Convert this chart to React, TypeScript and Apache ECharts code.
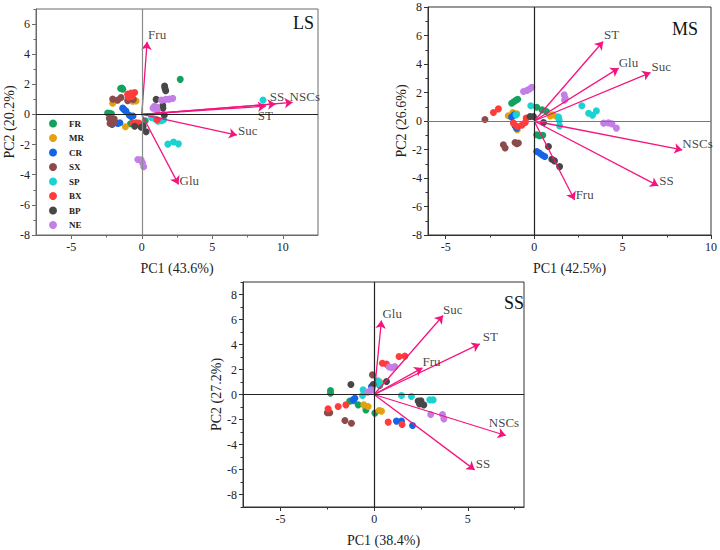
import React, { useEffect, useRef } from 'react';
import * as echarts from 'echarts';

const groups = ['FR', 'MR', 'CR', 'SX', 'SP', 'BX', 'BP', 'NE'];
const groupColors = ['#12A15E', '#E3A10E', '#1464E8', '#8C4B4B', '#1BD2D2', '#FF3B3B', '#474747', '#C27FE6'];

// ---- LS panel scores ----
const lsFR = [[2.73, 2.33], [-1.5, 1.72], [-1.42, 1.76], [-1.35, 1.68], [-2.42, 0.1], [-2.28, 0.08], [-2.15, 0.05], [-0.8, -0.62], [-0.68, -0.58], [0.25, -0.42]];
const lsMR = [[-2.06, 0.74], [-1.16, -0.81], [-0.52, 0.91], [-0.4, 0.9], [-0.65, 0.88]];
const lsCR = [[-1.35, 0.42], [-1.25, 0.32], [-1.12, 0.22], [-0.88, -0.05], [-0.75, -0.14], [-0.62, -0.1], [-1.7, -0.6], [-1.55, -0.55], [-2.1, -0.66]];
const lsSX = [[-2.06, 1.02], [-1.71, 0.95], [-1.47, 1.12], [-1.0, 0.92], [-0.8, 1.05], [-0.6, 1.0], [-2.3, -0.27], [-2.25, -0.6], [-2.0, -0.58], [-1.95, -0.3]];
const lsSP = [[8.6, 0.95], [1.85, -1.97], [2.25, -1.83], [2.6, -1.95], [0.7, -0.2], [0.95, -0.3], [1.15, -0.45], [1.4, -0.42], [1.55, -0.35]];
const lsBX = [[-1.0, 1.35], [-0.75, 1.42], [-0.5, 1.46], [-0.95, 1.15], [-0.68, 1.2], [-0.64, -0.6], [-0.4, -0.55], [-0.2, -0.57], [1.1, -0.35]];
const lsBP = [[1.62, 1.88], [1.65, 1.72], [1.7, 1.57], [1.02, 1.0], [1.49, 0.6], [1.5, 0.42], [1.6, -0.04], [-0.5, -0.78], [-0.04, -0.85], [0.1, -0.78], [0.31, -1.15]];
const lsNE = [[0.8, 0.42], [0.9, 0.55], [1.05, 0.5], [1.1, 0.3], [1.4, 0.95], [1.7, 1.0], [1.95, 1.02], [2.2, 1.07], [-0.28, -2.99], [-0.05, -3.0], [0.05, -3.2], [0.14, -3.47]];
const lsVars = ['Fru', 'SS', 'NSCs', 'ST', 'Suc', 'Glu'];
const lsLoadX = [0.38, 9.5, 10.7, 8.8, 6.75, 2.61];
const lsLoadY = [4.82, 0.7, 0.8, 0.55, -1.37, -4.64];

// ---- MS panel scores ----
const msFR = [[-1.27, 1.25], [-1.15, 1.35], [-1.03, 1.45], [-0.93, 1.53], [0.15, 0.97], [0.45, 0.78], [0.7, 0.67], [0.15, -0.97], [0.3, -1.04], [0.49, -1.0]];
const msMR = [[-1.46, 0.37], [-1.2, 0.6], [-0.98, 0.5], [-1.0, -0.55], [-0.95, -0.62], [0.91, 0.36], [1.06, 0.43], [1.3, 0.3]];
const msCR = [[-1.27, 0.27], [-1.13, 0.43], [-1.08, -0.34], [-0.98, -0.5], [0.15, -2.14], [0.3, -2.25], [0.45, -2.38], [0.6, -2.49]];
const msSX = [[-2.78, 0.1], [-1.74, -1.67], [-1.64, -1.9], [-1.08, -1.51], [-0.98, -1.6], [-0.89, -1.55]];
const msSP = [[-0.19, 1.07], [-1.02, 0.43], [1.38, 0.27], [1.42, 0.05], [1.44, -0.34], [2.7, 1.07], [3.08, 0.55], [3.3, 0.4], [3.52, 0.71]];
const msBX = [[-2.3, 0.6], [-2.02, 0.85], [-1.17, -0.15], [-0.95, -0.39], [-0.7, -0.3], [-0.5, -0.1], [-0.45, 0.2]];
const msBP = [[-0.23, 0.32], [-0.04, 0.32], [0.53, -0.1], [0.81, -1.79], [1.0, -2.68], [1.15, -2.8], [1.44, -3.2]];
const msNE = [[-0.6, 2.07], [-0.4, 2.15], [-0.25, 2.25], [-0.13, 2.37], [1.7, 1.84], [1.76, 1.6], [1.72, 1.45], [3.93, -0.15], [4.2, -0.13], [4.4, -0.2], [4.65, -0.5]];
const msVars = ['ST', 'Glu', 'Suc', 'NSCs', 'SS', 'Fru'];
const msLoadX = [3.9, 4.78, 6.58, 8.38, 7.02, 2.29];
const msLoadY = [5.58, 3.71, 3.4, -2.03, -4.55, -5.54];

// ---- SS panel scores ----
const ssFR = [[-2.33, 0.32], [-2.33, 0.1], [-1.3, -0.53], [-1.1, -0.5], [-0.85, -0.83], [-0.44, -1.23], [0.04, -1.49], [0.3, 0.72]];
const ssMR = [[-0.55, -0.83], [-0.32, -0.96], [0.27, -1.28], [0.39, -1.33], [0.3, 1.0]];
const ssCR = [[-1.12, -0.42], [-1.03, -0.3], [1.19, -2.13], [1.46, -2.13], [2.05, -2.48], [-0.14, 0.64]];
const ssSX = [[-0.09, 1.57], [-2.5, -1.46], [-2.37, -1.46], [-1.56, -2.08], [-1.21, -2.3]];
const ssSP = [[-0.59, 0.37], [-0.62, -0.08], [0.2, 1.1], [0.3, 0.85], [1.46, -0.08], [1.99, -0.16], [2.97, -0.43], [3.15, -0.43]];
const ssBX = [[1.33, 3.04], [1.64, 3.07], [0.44, 2.5], [0.66, 2.43], [-2.46, -1.15], [-1.92, -0.96], [-1.51, -0.83], [0.75, -2.21], [1.49, -2.4]];
const ssBP = [[-1.24, 0.8], [-0.05, 0.8], [0.66, 1.04], [2.35, -0.53], [2.5, -0.5], [2.42, -0.75], [2.65, -0.83]];
const ssNE = [[0.8, 2.2], [0.95, 2.15], [1.1, 2.24], [-0.34, 0.19], [-0.2, 0.3], [-0.14, 0.37], [3.02, -1.6], [3.65, -1.6], [3.72, -1.95]];
const ssVars = ['Glu', 'Suc', 'ST', 'Fru', 'NSCs', 'SS'];
const ssLoadX = [0.39, 3.68, 5.64, 2.58, 7.03, 5.37];
const ssLoadY = [5.92, 6.32, 4.05, 2.13, -3.28, -6.03];

// ---- ticks ----
const lsXTicks = [-5, 0, 5, 10];
const lsXMinor = [-2.5, 2.5, 7.5];
const lsYTicks = [-8, -6, -4, -2, 0, 2, 4, 6];
const lsYMinor = [-7, -5, -3, -1, 1, 3, 5, 7];
const msXTicks = [-5, 0, 5, 10];
const msXMinor = [-2.5, 2.5, 7.5];
const msYTicks = [-8, -6, -4, -2, 0, 2, 4, 6, 8];
const msYMinor = [-7, -5, -3, -1, 1, 3, 5, 7];
const ssXTicks = [-5, 0, 5];
const ssXMinor = [-2.5, 2.5, 7.5];
const ssYTicks = [-8, -6, -4, -2, 0, 2, 4, 6, 8];
const ssYMinor = [-9, -7, -5, -3, -1, 1, 3, 5, 7, 9];

const SERIF = 'Liberation Serif, Times New Roman, serif';
const ARROW = '#F5147D';

const panels = [
  {
    title: 'LS', titleX: 293, titleY: 14,
    grid: { left: 36, top: 9, width: 282, height: 226 },
    xMin: -7.5, xMax: 12.5, yMin: -8, yMax: 7,
    xTicks: lsXTicks, xMinor: lsXMinor, yTicks: lsYTicks, yMinor: lsYMinor,
    xName: 'PC1 (43.6%)', yName: 'PC2 (20.2%)',
    points: [lsFR, lsMR, lsCR, lsSX, lsSP, lsBX, lsBP, lsNE],
    vars: lsVars, loadX: lsLoadX, loadY: lsLoadY,
    offsets: [[1, -7], [-6, -7], [-3, -6], [-8, 9], [1, -5], [1, -4]],
    frame: '#6a6a6a', vColor: '#8a8a8a', hColor: '#222',
  },
  {
    title: 'MS', titleX: 672, titleY: 20,
    grid: { left: 428, top: 7, width: 283, height: 228 },
    xMin: -6, xMax: 10, yMin: -8, yMax: 8,
    xTicks: msXTicks, xMinor: msXMinor, yTicks: msYTicks, yMinor: msYMinor,
    xName: 'PC1 (42.5%)', yName: 'PC2 (26.6%)',
    points: [msFR, msMR, msCR, msSX, msSP, msBX, msBP, msNE],
    vars: msVars, loadX: msLoadX, loadY: msLoadY,
    offsets: [[1, -7], [0, -6], [1, -6], [0, -6], [1, -5], [1, -5]],
    frame: '#333', vColor: '#222', hColor: '#777',
  },
  {
    title: 'SS', titleX: 504, titleY: 294,
    grid: { left: 243, top: 282, width: 281, height: 225 },
    xMin: -7, xMax: 8, yMin: -9, yMax: 9,
    xTicks: ssXTicks, xMinor: ssXMinor, yTicks: ssYTicks, yMinor: ssYMinor,
    xName: 'PC1 (38.4%)', yName: 'PC2 (27.2%)',
    points: [ssFR, ssMR, ssCR, ssSX, ssSP, ssBX, ssBP, ssNE],
    vars: ssVars, loadX: ssLoadX, loadY: ssLoadY,
    offsets: [[1, -7], [0, -6], [3, -7], [0, -6], [-17, -13], [1, -6]],
    frame: '#333', vColor: '#222', hColor: '#222',
  },
];

function buildOption() {
  const grid: any[] = [];
  const xAxis: any[] = [];
  const yAxis: any[] = [];
  const series: any[] = [];
  const graphic: any[] = [];

  panels.forEach((p, i) => {
    grid.push({ ...p.grid, show: true, borderColor: p.frame, borderWidth: 1, backgroundColor: 'transparent' });
    const lineStyle = { color: p.frame, width: 1 };
    xAxis.push({
      type: 'value', gridIndex: i, min: p.xMin, max: p.xMax, position: 'bottom',
      name: p.xName, nameLocation: 'middle', nameGap: 26,
      nameTextStyle: { fontFamily: SERIF, fontSize: 14, color: '#222' },
      axisLine: { show: true, onZero: false, lineStyle },
      axisTick: { show: true, length: 4, customValues: p.xTicks, lineStyle },
      axisLabel: { show: true, customValues: p.xTicks, margin: 6, fontFamily: SERIF, fontSize: 12, color: '#222' },
      splitLine: { show: false },
    });
    xAxis.push({
      type: 'value', gridIndex: i, min: p.xMin, max: p.xMax, position: 'bottom',
      axisLine: { show: false, onZero: false },
      axisTick: { show: true, length: 2.5, customValues: p.xMinor, lineStyle },
      axisLabel: { show: false },
      splitLine: { show: false },
    });
    yAxis.push({
      type: 'value', gridIndex: i, min: p.yMin, max: p.yMax, position: 'left',
      name: p.yName, nameLocation: 'middle', nameGap: 20,
      nameTextStyle: { fontFamily: SERIF, fontSize: 14, color: '#222' },
      axisLine: { show: true, onZero: false, lineStyle },
      axisTick: { show: true, length: 4, customValues: p.yTicks, lineStyle },
      axisLabel: { show: true, customValues: p.yTicks, margin: 6, fontFamily: SERIF, fontSize: 12, color: '#222' },
      splitLine: { show: false },
    });
    yAxis.push({
      type: 'value', gridIndex: i, min: p.yMin, max: p.yMax, position: 'left',
      axisLine: { show: false, onZero: false },
      axisTick: { show: true, length: 2.5, customValues: p.yMinor, lineStyle },
      axisLabel: { show: false },
      splitLine: { show: false },
    });

    const xi = 2 * i;
    const yi = 2 * i;

    groups.forEach((g, k) => {
      series.push({
        type: 'scatter', name: g, xAxisIndex: xi, yAxisIndex: yi,
        data: p.points[k], symbolSize: 7, itemStyle: { color: groupColors[k], opacity: 1 }, z: 2,
      });
    });

    series.push({
      type: 'lines', coordinateSystem: 'cartesian2d', xAxisIndex: xi, yAxisIndex: yi,
      symbol: ['none', 'arrow'], symbolSize: [0, 8],
      lineStyle: { color: ARROW, width: 1.3, opacity: 1, curveness: 0 },
      data: p.vars.map((v, k) => ({ name: v, coords: [[0, 0], [p.loadX[k], p.loadY[k]]] })),
      z: 4, silent: true,
      markLine: {
        silent: true, symbol: 'none', animation: false,
        label: { show: false },
        data: [
          { xAxis: 0, lineStyle: { color: p.vColor, width: 1.2, type: 'solid' } },
          { yAxis: 0, lineStyle: { color: p.hColor, width: 1.2, type: 'solid' } },
        ],
      },
    });

    series.push({
      type: 'scatter', xAxisIndex: xi, yAxisIndex: yi, symbolSize: 0, silent: true, z: 5,
      data: p.vars.map((v, k) => ({
        name: v, value: [p.loadX[k], p.loadY[k]],
        label: {
          show: true, position: 'right', distance: 0, offset: p.offsets[k], formatter: v,
          fontFamily: SERIF, fontSize: 13, color: '#111',
        },
      })),
    });

    graphic.push({
      type: 'text', left: p.titleX, top: p.titleY,
      style: { text: p.title, fontFamily: SERIF, fontSize: 18, fill: '#111' },
    });
  });

  return {
    animation: false,
    backgroundColor: '#ffffff',
    grid, xAxis, yAxis, series, graphic,
    legend: {
      orient: 'vertical', left: 44, top: 114, itemWidth: 22, itemHeight: 8, itemGap: 5.5,
      icon: 'circle', data: groups, selectedMode: false,
      textStyle: { fontFamily: SERIF, fontWeight: 'bold', fontSize: 9, color: '#222' },
    },
  };
}

export default function App() {
  const ref = useRef<HTMLDivElement>(null);
  useEffect(() => {
    if (!ref.current) return;
    const chart = echarts.init(ref.current, null, { renderer: 'svg' });
    chart.setOption(buildOption() as any);
    return () => chart.dispose();
  }, []);
  return <div ref={ref} style={{ position: 'absolute', left: 0, top: 0, width: 720, height: 550 }} />;
}
